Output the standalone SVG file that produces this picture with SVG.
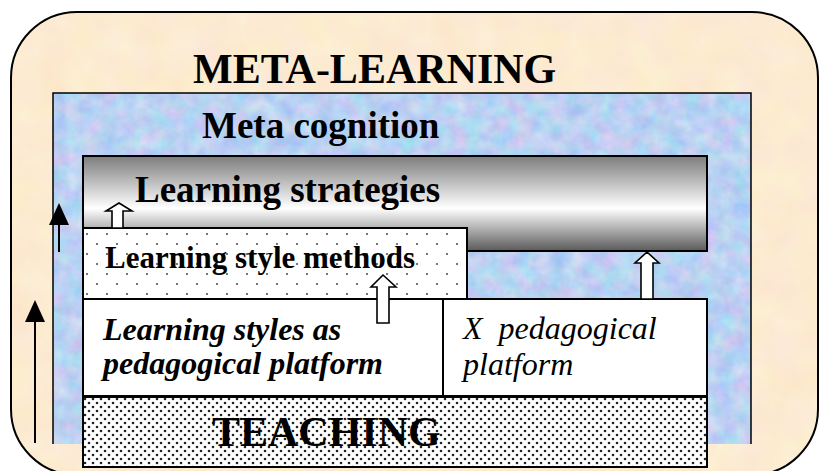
<svg xmlns="http://www.w3.org/2000/svg" width="819" height="471" viewBox="0 0 819 471">
<style>
text{font-family:"Liberation Serif","Times New Roman",serif;fill:#000}
.b{font-weight:bold}
.box{stroke:#000;stroke-width:2}
.harrow{fill:#fff;stroke:#000;stroke-width:1.6;stroke-linejoin:miter}
.line{stroke:#000;stroke-width:2;fill:none}
</style>
<defs>
<filter id="beigeTex" x="0" y="0" width="100%" height="100%" color-interpolation-filters="sRGB">
<feTurbulence type="fractalNoise" baseFrequency="0.03" numOctaves="3" seed="5"/>
<feColorMatrix type="matrix" values="0 0 0 0 0.99  0 0.06 0 0 0.89  0 0 0.09 0 0.775  0 0 0 0 1"/>
</filter>
<filter id="blueTex" x="0" y="0" width="100%" height="100%" color-interpolation-filters="sRGB">
<feTurbulence type="fractalNoise" baseFrequency="0.06" numOctaves="3" seed="3"/>
<feColorMatrix type="matrix" values="0.32 0 0 0 0.57  0 0.2 0 0 0.72  0 0 0.08 0 0.91  0 0 0 0 1"/>
</filter>
<clipPath id="outerClip"><rect x="11" y="12" width="807" height="463" rx="66" ry="66"/></clipPath>
<linearGradient id="steel" x1="0" y1="0" x2="0" y2="1">
<stop offset="0" stop-color="#7c7c7c"/>
<stop offset="0.55" stop-color="#ffffff"/>
<stop offset="1" stop-color="#5a5a5a"/>
</linearGradient>
<pattern id="sparseDots" width="20" height="20" patternUnits="userSpaceOnUse" x="83" y="228">
<rect width="20" height="20" fill="#fff"/>
<circle cx="4" cy="6" r="1.1" fill="#555"/>
<circle cx="14" cy="16" r="1.1" fill="#555"/>
</pattern>
<pattern id="denseDots" width="8" height="8" patternUnits="userSpaceOnUse" x="83" y="397">
<rect width="8" height="8" fill="#fff"/>
<circle cx="2" cy="2" r="1.3" fill="#222"/>
<circle cx="6" cy="6" r="1.3" fill="#222"/>
</pattern>
</defs>

<g id="meta-learning">
<rect x="11" y="12" width="807" height="463" rx="66" ry="66" fill="#fcebd0"/>
<rect x="11" y="12" width="807" height="463" clip-path="url(#outerClip)" filter="url(#beigeTex)"/>
<rect x="11" y="12" width="807" height="463" rx="66" ry="66" fill="none" stroke="#000" stroke-width="2"/>
<text class="b" x="193" y="83" font-size="42">META-LEARNING</text>
</g>

<g id="meta-cognition">
<rect x="53" y="93" width="698" height="351" filter="url(#blueTex)"/>
<path d="M53 444 V93 H751 V444" fill="none" stroke="#000" stroke-width="1.5"/>
<text class="b" x="202" y="138" font-size="37">Meta cognition</text>
</g>

<g id="learning-strategies">
<rect class="box" x="83" y="156" width="624" height="95" fill="url(#steel)"/>
<text class="b" x="135" y="202" font-size="37">Learning strategies</text>
</g>

<g id="learning-style-methods">
<rect class="box" x="83" y="228" width="384" height="71" fill="url(#sparseDots)"/>
<text class="b" x="105" y="268" font-size="31">Learning style methods</text>
</g>

<g id="learning-styles-platform">
<rect class="box" x="83" y="299" width="360" height="97" fill="#fff"/>
<text class="b" font-style="italic" font-size="32"><tspan x="103" y="340">Learning styles as</tspan><tspan x="103" y="374">pedagogical platform</tspan></text>
</g>

<g id="x-platform">
<rect class="box" x="443" y="299" width="264" height="97" fill="#fff"/>
<text font-style="italic" font-size="32" xml:space="preserve"><tspan x="463" y="339">X  pedagogical</tspan><tspan x="463" y="375">platform</tspan></text>
</g>

<g id="teaching">
<rect class="box" x="83" y="397" width="624" height="70" fill="url(#denseDots)"/>
<text class="b" x="212" y="446" font-size="42">TEACHING</text>
</g>

<g id="connectors">
<line class="line" x1="35" y1="443" x2="35" y2="318"/>
<polygon points="35,300 25,322 45,322" fill="#000"/>
<line class="line" x1="59" y1="252" x2="59" y2="222"/>
<polygon points="59,203 49,225 69,225" fill="#000"/>
<polygon class="harrow" points="112,228 112,211 106,211 119,203 132,211 123,211 123,228"/>
<polygon class="harrow" points="377,323 377,287 371,287 383,275 396,287 389,287 389,323"/>
<polygon class="harrow" points="641,299 641,263 635,263 647,252 659,263 653,263 653,299"/>
</g>
</svg>
